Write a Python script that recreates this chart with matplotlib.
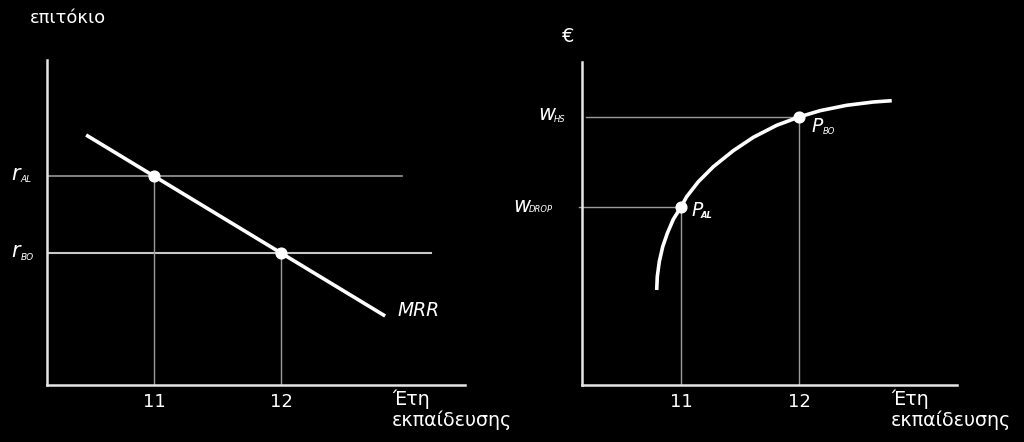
import matplotlib
matplotlib.use("Agg")
import matplotlib.pyplot as plt

# ---------------- data ----------------
years = [11, 12]
tick_labels = ["11", "12"]

# left panel: interest rates (arbitrary units)
r_AL = 2.09
r_BO = 1.32
mrr_x = [10.465, 12.82]
mrr_y = [2.50, 0.69]
left_points_x = [11, 12]
left_points_y = [r_AL, r_BO]

# right panel: earnings curve (arbitrary units)
w_DROP = 1.78
w_HS = 2.68
curve_x = [10.794, 10.799, 10.816, 10.845, 10.884, 10.935, 11.0, 11.048,
           11.147, 11.274, 11.443, 11.613, 11.811, 12.0, 12.178, 12.404,
           12.630, 12.786]
curve_y = [0.95, 1.083, 1.233, 1.383, 1.517, 1.657, 1.78, 1.883,
           2.033, 2.183, 2.343, 2.477, 2.597, 2.68, 2.743, 2.797,
           2.83, 2.843]
right_points_x = [11, 12]
right_points_y = [w_DROP, w_HS]

W, H = 1024, 442
BG = "black"
FG = "white"
GUIDE = "#9a9a9a"

fig = plt.figure(figsize=(W / 100, H / 100), dpi=100, facecolor=BG)


def px_axes(left, top, right, bottom):
    return fig.add_axes([left / W, 1 - bottom / H, (right - left) / W, (bottom - top) / H])


def style(ax):
    ax.set_facecolor(BG)
    for s in ["top", "right"]:
        ax.spines[s].set_visible(False)
    for s in ["left", "bottom"]:
        ax.spines[s].set_color("#e6e6e6")
        ax.spines[s].set_linewidth(1.8)
    ax.set_yticks([])
    ax.set_xticks(years)
    ax.set_xticklabels(tick_labels, color=FG, fontsize=13)
    ax.tick_params(axis="x", length=0, pad=6)


def ftext(x, y, s, **kw):
    fig.text(x / W, 1 - y / H, s, color=FG, **kw)


# ---------------- left panel ----------------
axL = px_axes(47, 60, 465, 385)
style(axL)
axL.set_xlim(10.157, 13.449)
axL.set_ylim(0, 3.25)

axL.plot([10.157, 12.95], [r_AL, r_AL], color=GUIDE, lw=1.2)
axL.plot([10.157, 13.18], [r_BO, r_BO], color="#c8c8c8", lw=1.5)
axL.plot([11, 11], [0, r_AL], color=GUIDE, lw=1)
axL.plot([12, 12], [0, r_BO], color=GUIDE, lw=1)
axL.plot(mrr_x, mrr_y, color=FG, lw=2.6, solid_capstyle="butt")
axL.scatter(left_points_x, left_points_y, s=60, color=FG, zorder=5)

ftext(30, 18, "επιτόκιο", fontsize=13, va="center", ha="left")
ftext(11, 174, "r", fontsize=15, style="italic", va="center", ha="left")
ftext(20.5, 180, "AL", fontsize=6.5, style="italic", va="center", ha="left")
ftext(11, 251, "r", fontsize=15, style="italic", va="center", ha="left")
ftext(20.5, 257, "BO", fontsize=6.5, style="italic", va="center", ha="left")
ftext(397, 310, "MRR", fontsize=13.5, style="italic", va="center", ha="left")
ftext(392, 399, "Έτη", fontsize=13.8, va="center", ha="left")
ftext(392, 420, "εκπαίδευσης", fontsize=13.8, va="center", ha="left")

# ---------------- right panel ----------------
axR = px_axes(582, 62, 957, 385)
style(axR)
axR.set_xlim(10.161, 13.339)
axR.set_ylim(0, 3.23)

axR.plot([10.195, 12], [w_HS, w_HS], color=GUIDE, lw=1)
axR.plot([10.135, 11], [w_DROP, w_DROP], color=GUIDE, lw=1, clip_on=False)
axR.plot([11, 11], [0, w_DROP], color=GUIDE, lw=1)
axR.plot([12, 12], [0, w_HS], color=GUIDE, lw=1)
axR.plot(curve_x, curve_y, color=FG, lw=2.6, solid_joinstyle="round",
         solid_capstyle="butt")
axR.scatter(right_points_x, right_points_y, s=60, color=FG, zorder=5)

ftext(568, 37, "€", fontsize=14, va="center", ha="center")
ftext(538, 114, "w", fontsize=15, style="italic", va="center", ha="left")
ftext(554, 120, "HS", fontsize=6, style="italic", va="center", ha="left")
ftext(513, 206, "w", fontsize=15, style="italic", va="center", ha="left")
ftext(529, 210, "DROP", fontsize=6, style="italic", va="center", ha="left")
ftext(691, 210, "P", fontsize=13.5, style="italic", va="center", ha="left")
ftext(701, 215, "AL", fontsize=6, style="italic", weight="bold", va="center", ha="left")
ftext(811, 127, "P", fontsize=13.5, style="italic", va="center", ha="left")
ftext(823, 132, "BO", fontsize=6, style="italic", va="center", ha="left")
ftext(891, 399, "Έτη", fontsize=13.8, va="center", ha="left")
ftext(891, 420, "εκπαίδευσης", fontsize=13.8, va="center", ha="left")

fig.savefig("out.png", dpi=100, facecolor=BG)
